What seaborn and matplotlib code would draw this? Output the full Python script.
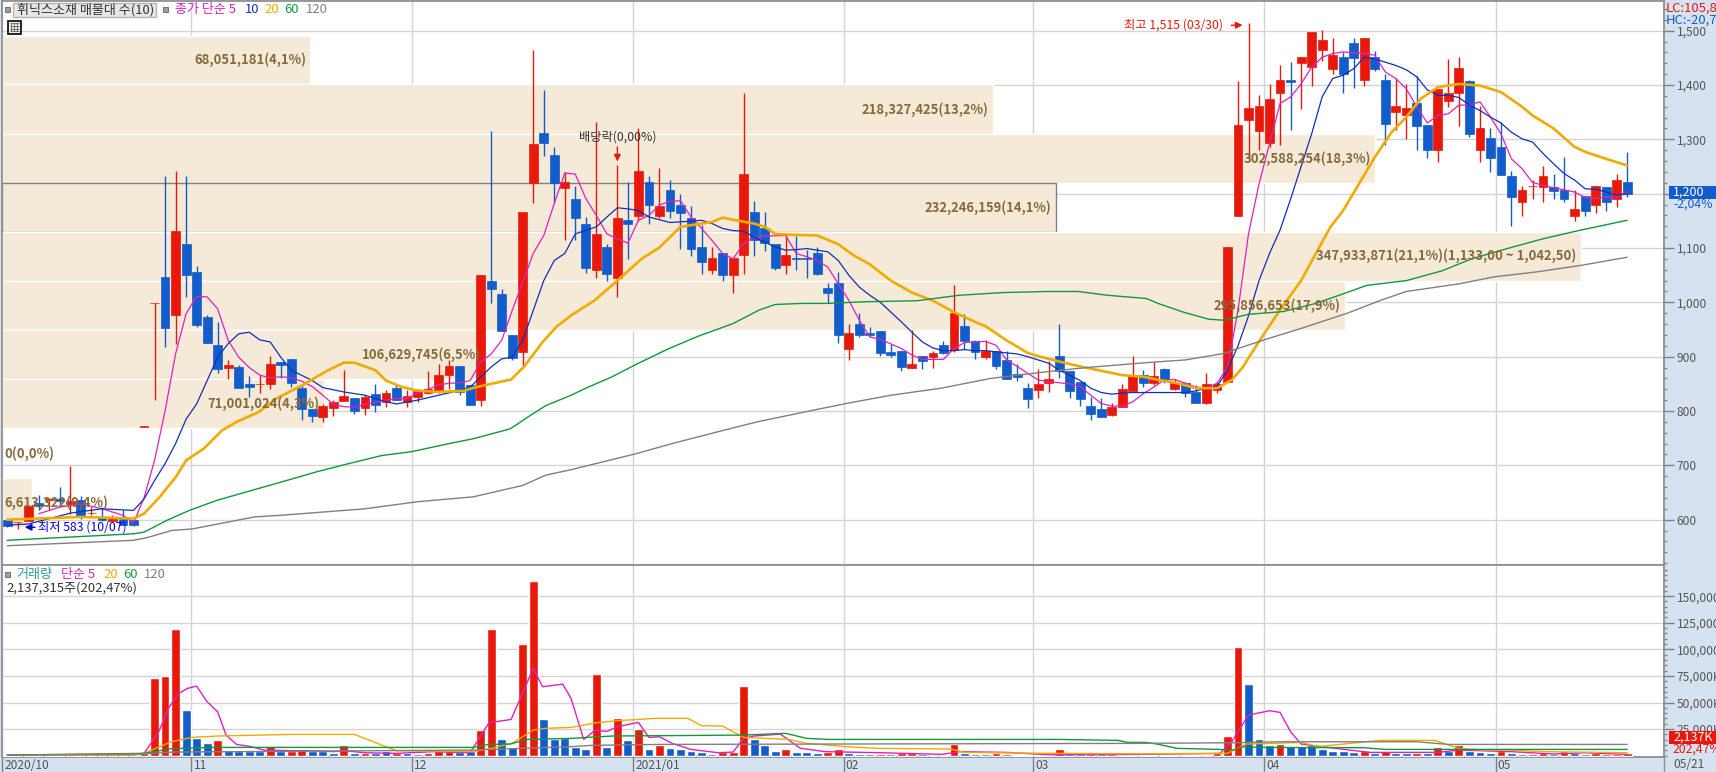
import matplotlib
matplotlib.use('Agg')
import matplotlib.pyplot as plt
from matplotlib.patches import Rectangle
from matplotlib.ticker import FuncFormatter, MultipleLocator
import numpy as np
import pandas as pd
import seaborn as sns

opens = [599, 595, 598, 631, 636, 638, 628, 637, 612, 604, 597, 602, 600, 771, 998, 1046, 976, 1107, 1055, 973,
         921, 879, 881, 849, 849, 850, 891, 895, 842, 804, 789, 805, 818, 823, 806, 831, 816, 842, 817, 825,
         834, 838, 866, 882, 847, 820, 1040, 1016, 939, 909, 1219, 1311, 1271, 1210, 1191, 1145, 1059, 1101, 1044, 1151,
         1158, 1221, 1158, 1206, 1180, 1156, 1101, 1059, 1090, 1050, 1088, 1166, 1136, 1107, 1068, 1081, 1081, 1090, 1026, 1035,
         915, 960, 944, 947, 909, 910, 879, 901, 899, 921, 912, 956, 929, 899, 910, 894, 868, 842, 839, 852,
         901, 874, 853, 809, 804, 793, 807, 837, 866, 852, 877, 840, 852, 835, 815, 839, 853, 1158, 1335, 1315,
         1294, 1385, 1410, 1440, 1434, 1464, 1429, 1451, 1477, 1409, 1451, 1410, 1350, 1344, 1366, 1326, 1280, 1370, 1385, 1407,
         1280, 1302, 1285, 1232, 1184, 1214, 1213, 1212, 1206, 1158, 1195, 1179, 1212, 1190, 1221]
closes = [588, 596, 626, 626, 638, 634, 635, 604, 613, 600, 604, 591, 591, 772, 999, 953, 1131, 1050, 958, 925,
          878, 884, 843, 844, 850, 886, 885, 851, 804, 791, 809, 816, 827, 800, 825, 811, 834, 821, 828, 836,
          840, 867, 882, 835, 811, 1051, 1024, 948, 898, 1166, 1291, 1294, 1219, 1221, 1155, 1064, 1125, 1053, 1156, 1144,
          1241, 1179, 1177, 1169, 1164, 1099, 1074, 1081, 1050, 1081, 1236, 1114, 1109, 1064, 1087, 1080, 1080, 1053, 1018, 939,
          943, 940, 940, 907, 903, 881, 886, 892, 907, 907, 980, 929, 909, 910, 883, 859, 863, 822, 850, 859,
          874, 837, 822, 794, 789, 807, 840, 864, 852, 864, 859, 852, 834, 815, 850, 850, 1101, 1326, 1357, 1361,
          1375, 1410, 1405, 1451, 1497, 1482, 1456, 1420, 1449, 1486, 1429, 1329, 1361, 1357, 1324, 1280, 1392, 1386, 1431, 1309,
          1320, 1265, 1234, 1193, 1206, 1215, 1232, 1204, 1190, 1171, 1169, 1215, 1184, 1226, 1199]
highs = [600, 596, 627, 645, 640, 661, 699, 643, 623, 623, 608, 617, 600, 772, 999, 1232, 1241, 1232, 1066, 976,
         963, 894, 885, 864, 866, 902, 891, 895, 847, 804, 813, 820, 875, 823, 830, 849, 838, 847, 838, 841,
         873, 886, 893, 882, 847, 1051, 1316, 1025, 939, 1166, 1465, 1391, 1285, 1240, 1215, 1157, 1331, 1107, 1252, 1221,
         1320, 1232, 1247, 1226, 1200, 1177, 1142, 1101, 1090, 1081, 1386, 1186, 1166, 1107, 1125, 1122, 1096, 1101, 1035, 1055,
         960, 980, 955, 947, 923, 910, 949, 901, 910, 929, 1032, 979, 931, 931, 910, 910, 887, 852, 877, 892,
         960, 874, 853, 826, 824, 814, 850, 901, 875, 891, 880, 858, 854, 847, 870, 854, 1101, 1407, 1515, 1381,
         1401, 1436, 1442, 1451, 1497, 1501, 1486, 1461, 1486, 1486, 1462, 1421, 1412, 1401, 1416, 1326, 1392, 1447, 1451, 1410,
         1361, 1320, 1331, 1241, 1215, 1225, 1250, 1236, 1267, 1206, 1195, 1215, 1212, 1236, 1276]
lows = [586, 583, 597, 618, 617, 629, 611, 602, 608, 598, 596, 590, 588, 771, 821, 918, 924, 1010, 955, 925,
        870, 858, 842, 826, 833, 840, 861, 845, 783, 780, 779, 791, 818, 795, 792, 798, 807, 821, 807, 817,
        832, 833, 841, 829, 811, 810, 998, 948, 894, 883, 1182, 1269, 1182, 1115, 1114, 1054, 1044, 1039, 1010, 1079,
        1149, 1144, 1155, 1155, 1099, 1085, 1053, 1053, 1039, 1018, 1053, 1085, 1094, 1059, 1053, 1059, 1044, 1050, 998, 926,
        894, 937, 938, 901, 899, 874, 879, 877, 879, 905, 909, 914, 896, 896, 877, 859, 855, 806, 824, 835,
        861, 824, 809, 783, 789, 791, 807, 835, 845, 848, 851, 839, 825, 815, 812, 833, 853, 1158, 1265, 1280,
        1286, 1289, 1318, 1355, 1399, 1445, 1420, 1385, 1394, 1399, 1425, 1289, 1317, 1300, 1280, 1265, 1259, 1359, 1324, 1304,
        1259, 1239, 1234, 1140, 1158, 1190, 1184, 1190, 1184, 1149, 1158, 1164, 1169, 1175, 1193]
volumes = [300, 300, 300, 600, 300, 900, 2500, 900, 600, 600, 600, 300, 300, 2500, 72900, 74800, 118900, 42900, 16600, 11900,
           14700, 5300, 4100, 4100, 4100, 9100, 4100, 4100, 6300, 4100, 4100, 2800, 10000, 2500, 2500, 2500, 4100, 2200, 2200, 1900,
           2800, 4700, 4700, 3400, 4700, 24100, 118900, 15700, 8100, 104900, 164000, 34400, 15700, 16300, 8100, 6300, 76700, 8100, 35400, 14700,
           25000, 6300, 10000, 7200, 6300, 4400, 3400, 1600, 3100, 3400, 65400, 15700, 10000, 4400, 6300, 3400, 3400, 2500, 3100, 6300,
           2800, 1600, 1600, 1900, 1900, 2200, 2200, 1600, 900, 900, 11000, 2500, 1600, 1600, 2200, 1200, 900, 900, 900, 900,
           6300, 1900, 1900, 1900, 1900, 1200, 900, 900, 900, 900, 600, 600, 600, 600, 600, 2200, 18500, 102000, 67300, 15700,
           10000, 11000, 9100, 9100, 10000, 6300, 4400, 4400, 3400, 4100, 2800, 4400, 2800, 2800, 2800, 2800, 8100, 4400, 10000, 4400,
           3400, 2500, 4400, 2800, 1900, 1900, 2800, 1200, 4400, 2200, 1900, 2500, 1200, 1200, 2137]
vol_dirs = list('BBBBBRRBBBRBBR'
                'RRRBBBRBBBBRBRRBBBRBRBBRBBRRRBBRRBBRRBBB'
                'BBRBRBRBRBBBBBRRRBBBRBBBRRBBBRBRRBRBRBBBRRBRRBRBBRBRRR'
                'RRBRRRRRRRBBBRBBBBBBBRBRBBRBRBRBBBRBBRRBRBBRRRR')

ma5_x = [3, 5, 7, 9, 11, 12, 13, 14, 15, 16, 17, 18, 19, 20, 21, 22, 23, 24, 25, 26, 27, 28, 29, 30, 31, 32, 33, 34, 35, 36, 37, 38, 39, 40, 41, 42, 43, 44, 45, 46, 47, 48, 49, 50, 51, 52, 53, 54, 55, 56, 57, 58, 59, 60, 61, 62, 63, 64, 65, 66, 67, 68, 69, 70, 71, 72, 74, 75, 76, 77, 78, 79, 80, 81, 82, 83, 85, 86, 87, 89, 90, 91, 93, 94, 95, 96, 98, 99, 101, 102, 103, 104, 105, 106, 107, 108, 109, 110, 111, 112, 113, 114, 115, 116, 117, 118, 119, 120, 121, 122, 123, 124, 125, 126, 127, 128, 129, 130, 131, 132, 133, 134, 135, 136, 137, 138, 139, 140, 141, 142, 143, 144, 145, 146, 147, 148, 149, 150, 151, 152, 153, 154]
ma5_y = [611, 623, 629, 620, 608, 594, 640, 709, 800, 905, 979, 1011, 1010, 988, 930, 899, 880, 866, 861, 863, 861, 855, 845, 829, 812, 808, 807, 812, 816, 820, 823, 823, 833, 840, 848, 851, 852, 856, 890, 905, 930, 985, 1037, 1090, 1123, 1182, 1238, 1236, 1191, 1160, 1126, 1117, 1109, 1151, 1160, 1179, 1186, 1187, 1157, 1136, 1114, 1090, 1080, 1108, 1120, 1122, 1123, 1090, 1084, 1077, 1065, 1034, 1004, 967, 936, 932, 915, 903, 895, 895, 915, 926, 928, 921, 894, 882, 857, 854, 850, 845, 829, 814, 809, 809, 817, 832, 844, 857, 858, 851, 844, 842, 851, 880, 985, 1126, 1218, 1292, 1366, 1378, 1402, 1433, 1451, 1458, 1461, 1459, 1458, 1455, 1424, 1412, 1393, 1360, 1330, 1344, 1347, 1363, 1363, 1369, 1341, 1310, 1264, 1246, 1221, 1215, 1211, 1207, 1203, 1193, 1191, 1194, 1194, 1203]
ma10_x = [0, 2, 4, 6, 9, 12, 13, 14, 15, 16, 17, 18, 19, 20, 21, 22, 23, 24, 25, 26, 27, 29, 30, 32, 34, 36, 37, 39, 41, 43, 44, 46, 47, 48, 49, 50, 51, 52, 53, 54, 56, 57, 58, 59, 60, 61, 62, 63, 64, 66, 67, 68, 69, 70, 71, 72, 73, 74, 75, 76, 77, 78, 79, 80, 81, 82, 83, 84, 85, 86, 87, 88, 89, 90, 91, 92, 93, 94, 96, 97, 98, 99, 100, 101, 102, 103, 104, 105, 106, 107, 108, 110, 112, 113, 114, 115, 116, 117, 118, 119, 120, 121, 122, 123, 124, 125, 126, 127, 128, 129, 130, 131, 132, 133, 134, 135, 136, 137, 138, 139, 140, 141, 142, 143, 144, 145, 146, 147, 148, 149, 150, 151, 152, 153, 154]
ma10_y = [590, 592, 602, 612, 620, 617, 638, 672, 703, 740, 785, 813, 856, 899, 924, 942, 945, 931, 927, 899, 875, 856, 843, 835, 829, 817, 813, 820, 829, 838, 844, 881, 896, 899, 930, 985, 1040, 1077, 1090, 1126, 1139, 1157, 1174, 1172, 1169, 1157, 1152, 1147, 1148, 1151, 1145, 1136, 1132, 1131, 1120, 1111, 1102, 1096, 1097, 1099, 1096, 1093, 1077, 1050, 1028, 1013, 1000, 982, 964, 945, 927, 916, 911, 911, 913, 911, 911, 909, 905, 900, 894, 888, 875, 866, 856, 842, 834, 831, 833, 834, 834, 834, 834, 837, 842, 845, 875, 920, 975, 1040, 1090, 1133, 1190, 1250, 1310, 1378, 1412, 1418, 1430, 1451, 1448, 1442, 1436, 1428, 1415, 1391, 1381, 1381, 1377, 1363, 1353, 1341, 1330, 1313, 1301, 1295, 1274, 1255, 1237, 1225, 1209, 1208, 1203, 1197, 1200]
ma20_x = [0, 7, 12, 13, 14.5, 16, 17, 18.7, 20.4, 21.8, 23.9, 25.6, 28, 30.4, 32, 33, 35, 36, 37.4, 38.8, 40.8, 43.3, 44.6, 46, 47.9, 49.1, 50.9, 52.2, 53.6, 55.8, 58, 60.3, 62, 64, 66, 67, 68, 69, 71, 72, 73, 75, 77, 79, 80.5, 82, 84, 86, 88, 90, 92, 93, 95, 97, 98, 100, 102, 104, 106, 108, 109.5, 111.5, 113, 115, 116.4, 117.4, 119, 121, 123, 124.4, 125.8, 127, 128.5, 130, 131.6, 133, 134.4, 136, 138, 140, 142, 144, 145, 147, 149, 150, 152, 154]
ma20_y = [600, 605, 602, 611, 642, 678, 709, 731, 764, 780, 798, 823, 847, 874, 889, 889, 875, 856, 845, 838, 835, 837, 844, 850, 858, 881, 927, 955, 976, 1003, 1040, 1080, 1101, 1139, 1145, 1148, 1156, 1152, 1145, 1139, 1126, 1124, 1123, 1107, 1086, 1070, 1040, 1018, 1003, 982, 964, 956, 930, 907, 901, 891, 882, 874, 866, 863, 857, 850, 842, 842, 857, 879, 928, 986, 1040, 1090, 1139, 1169, 1218, 1267, 1313, 1341, 1375, 1396, 1402, 1399, 1387, 1360, 1344, 1320, 1286, 1277, 1264, 1252]
ma60_x = [0, 12, 13, 15.2, 17.3, 20, 26, 29.4, 32, 35.6, 38.4, 42, 44.3, 47.8, 49.5, 51.2, 53.6, 55, 57.5, 59.7, 62.8, 65.6, 69, 71.5, 73, 75.5, 78, 81.5, 86.5, 90.5, 94.7, 99, 101.8, 104.6, 108.3, 109.4, 111.8, 114.2, 115.7, 118, 121.3, 124.4, 127.2, 129.2, 133, 136.4, 139.2, 142.6, 146, 149.6, 154]
ma60_y = [562, 574, 577, 599, 617, 636, 669, 688, 701, 718, 725, 740, 749, 767, 789, 810, 829, 842, 863, 885, 914, 937, 961, 986, 996, 998, 998, 1001, 1003, 1013, 1018, 1020, 1020, 1013, 1007, 998, 982, 969, 967, 978, 983, 998, 1017, 1031, 1040, 1058, 1080, 1099, 1117, 1133, 1151]
ma120_x = [0, 12, 13.3, 15.6, 17.6, 23.5, 26, 34, 39, 44.3, 49, 51.2, 53.6, 59.7, 63.2, 68, 71.3, 76, 79.8, 84, 88.8, 93.5, 98.7, 102.6, 108.3, 112, 115.7, 117, 119.5, 123, 127.4, 130.6, 133, 138, 141.4, 145.4, 149.6, 154]
ma120_y = [552, 562, 567, 580, 583, 605, 608, 620, 633, 642, 663, 682, 692, 721, 740, 764, 780, 799, 814, 829, 842, 860, 872, 880, 889, 894, 906, 915, 931, 952, 980, 1004, 1020, 1034, 1047, 1056, 1068, 1083]

vma5_x = [0, 12, 13, 14.4, 15.4, 16.3, 17.1, 18, 19, 20, 20.8, 21.8, 23.2, 24.4, 27, 29, 31, 32, 34, 37, 40.5, 44, 45.8, 47.9, 50, 50.9, 52.8, 53.6, 54.8, 55.9, 57, 58, 60, 61, 62, 63.2, 65, 67.6, 69, 70, 71, 73.5, 75.4, 77.8, 83, 88.9, 90.5, 95, 99, 108, 115.3, 116.4, 118, 120, 121, 122, 123, 125, 127.6, 129.6, 136, 138, 143, 147, 150, 154]
vma5_y = [600, 600, 2200, 22500, 46000, 58500, 63200, 65400, 50700, 41300, 19400, 10600, 8500, 5300, 4700, 4700, 3800, 4700, 2800, 2200, 3800, 2800, 31000, 34100, 82000, 64800, 67300, 53800, 15300, 24100, 22800, 27200, 31300, 17200, 17800, 11600, 5900, 2800, 3400, 16300, 18500, 20300, 6900, 3800, 2800, 1250, 3800, 3100, 900, 1250, 2200, 13100, 38200, 42300, 40700, 22500, 11000, 8500, 5300, 3100, 3100, 5300, 3800, 1600, 2800, 1250]
vma20_x = [0, 12, 13.1, 15.6, 17.5, 20, 27, 33, 35.6, 37, 44.3, 46, 48, 50, 51.2, 53.6, 56, 58, 60, 61.6, 64.7, 66, 68, 70, 74.3, 76, 78, 79.7, 82.7, 89.7, 91, 99.3, 108, 116, 117.8, 120.4, 123, 124.6, 130.5, 135.7, 138, 140, 143, 146, 154]
vma20_y = [600, 600, 2800, 13100, 17200, 18500, 20000, 20000, 10000, 4700, 3800, 6900, 11600, 24100, 25700, 26600, 31000, 32900, 34100, 35100, 35100, 28200, 27900, 17200, 15300, 11600, 10000, 8500, 6900, 6300, 3100, 2200, 1800, 2200, 11000, 11600, 12500, 8500, 14400, 14400, 6900, 5300, 5300, 3800, 2800]
vma60_x = [0, 13, 15.6, 19.4, 44.3, 45.7, 47.8, 49.5, 53.6, 57.5, 70, 74, 76, 78, 97, 100, 105.6, 106.5, 108.2, 109.3, 111.2, 115.3, 116.5, 117.6, 119, 129, 131, 154]
vma60_y = [600, 2200, 6600, 7800, 7800, 10600, 11000, 15300, 16300, 18500, 19400, 21000, 16300, 15300, 15300, 15300, 14400, 12500, 12500, 11000, 6900, 5900, 5300, 8500, 7800, 7500, 5900, 5900]
vma120_x = [0, 13, 15.6, 44.3, 53.6, 55.5, 62, 108, 116.5, 121, 134, 137, 154]
vma120_y = [600, 1600, 3400, 5300, 8500, 9700, 10600, 11600, 12200, 13100, 13100, 10600, 10600]

# top to bottom, price edges of the volume profile
band_edges = [1491, 1401, 1310, 1220, 1130, 1040, 949, 858, 768, 676, 586]
band_vols = [68051181, 218327425, 302588254, 232246159, 347933871, 295856653, 106629745, 71001024, 0, 6613322]
band_labels = ['68,051,181(4,1%)', '218,327,425(13,2%)', '302,588,254(18,3%)', '232,246,159(14,1%)',
               '347,933,871(21,1%)(1,133,00 ~ 1,042,50)', '295,856,653(17,9%)', '106,629,745(6,5%)',
               '71,001,024(4,3%)', '0(0,0%)', '6,613,322(0,4%)']
month_pos = [-0.5, 17.5, 38.5, 59.5, 79.5, 97.5, 119.5, 141.5]
month_labels = ['2020/10', '11', '12', '2021/01', '02', '03', '04', '05']

RED = '#e8190b'
BLUE = '#125dcb'
MAGENTA = '#e020c0'
NAVY = '#1030b8'
ORANGE = '#f2aa00'
GREEN = '#10993c'
GREY = '#808080'
BROWN = '#866a38'
STRIP = '#d6e2f0'
W, H = 1716, 772

sns.set_style('white')
plt.rcParams['font.family'] = ['Noto Sans CJK KR', 'DejaVu Sans']

fig = plt.figure(figsize=(W / 100, H / 100), dpi=100, facecolor=STRIP)
ax = fig.add_axes([1.5 / W, 1 - 565.3 / H, (1664 - 1.5) / W, (565.3 - 1) / H])
ax_vol = fig.add_axes([1.5 / W, 1 - 756.7 / H, (1664 - 1.5) / W, (756.7 - 565.3) / H])

XLIM = (-0.55, 157.5)
ax.set_xlim(*XLIM)
ax.set_ylim(516, 1554.6)

# grid first, everything else sits on it
ax.set_axisbelow(True)
ax.grid(True, which='major', color='#d4d4d4', lw=1)
ax.set_xticks(month_pos)
ax.yaxis.set_major_locator(MultipleLocator(100))
ax.yaxis.set_minor_locator(MultipleLocator(20))
ax.yaxis.set_major_formatter(FuncFormatter(lambda v, p: f'{int(v):,}'))
ax.yaxis.tick_right()
ax.tick_params(axis='y', which='major', length=7, width=1, color=GREY, labelsize=8.6, labelcolor='#555555', pad=2, right=True)
ax.tick_params(axis='y', which='minor', length=2.5, width=1, color=GREY, right=True)
ax.tick_params(axis='x', length=0, labelbottom=False)

# volume profile bands, width follows traded volume
px_per_vol = 4.54 / 10.52 / 1e6
for k, vol in enumerate(band_vols):
    top, bot = band_edges[k], band_edges[k + 1]
    edge = GREY if k == 3 else 'white'
    width = vol * px_per_vol
    if vol > 0:
        ax.barh((top + bot) / 2, width, height=top - bot, left=XLIM[0], color='#f5e9d8',
                edgecolor=edge, lw=1, zorder=1)
    if width > 6:
        ax.text(XLIM[0] + width - 0.4, (top + bot) / 2, band_labels[k], ha='right', va='center',
                fontsize=9.4, fontweight='bold', color=BROWN, zorder=8)
    else:
        ax.text(XLIM[0] + 0.3, (top + bot) / 2, band_labels[k], ha='left', va='center',
                fontsize=9.4, fontweight='bold', color=BROWN, zorder=8)

idx = np.arange(len(opens))
o, c, hi, lo = map(np.array, (opens, closes, highs, lows))
up = c >= o
colors = np.where(up, RED, BLUE)
ax.vlines(idx, lo, hi, colors=colors, lw=1.0, zorder=3)
ax.bar(idx, np.abs(c - o), bottom=np.minimum(o, c), width=0.84, color=colors, edgecolor=colors, lw=0.5, zorder=4)

for xs, ys, col, w in [(ma5_x, ma5_y, MAGENTA, 0.9), (ma10_x, ma10_y, NAVY, 0.9), (ma20_x, ma20_y, ORANGE, 1.9),
                       (ma60_x, ma60_y, GREEN, 1.0), (ma120_x, ma120_y, GREY, 1.0)]:
    sns.lineplot(x=xs, y=ys, color=col, lw=w, estimator=None, sort=False, ax=ax, zorder=5)
ax.set_xlabel('')
ax.set_ylabel('')
ax.set_xlim(*XLIM)
ax.set_ylim(516, 1554.6)

# volume pane
df = pd.DataFrame({'i': idx, 'vol': volumes, 'dir': vol_dirs})
sns.barplot(data=df, x='i', y='vol', hue='dir', palette={'R': RED, 'B': BLUE}, native_scale=True, dodge=False,
            width=0.84, saturation=1, legend=False, ax=ax_vol, zorder=3)
for xs, ys, col in [(vma5_x, vma5_y, MAGENTA), (vma20_x, vma20_y, ORANGE), (vma60_x, vma60_y, GREEN), (vma120_x, vma120_y, GREY)]:
    sns.lineplot(x=xs, y=ys, color=col, lw=1.0, estimator=None, sort=False, ax=ax_vol, zorder=5)
ax_vol.set_xlabel('')
ax_vol.set_ylabel('')
ax_vol.set_xlim(*XLIM)
ax_vol.set_ylim(-940, 179000)
ax_vol.set_axisbelow(True)
ax_vol.grid(True, which='major', color='#d4d4d4', lw=1)
ax_vol.set_xticks(month_pos)
ax_vol.set_xticklabels([])
ax_vol.set_yticks([25000, 50000, 75000, 100000, 125000, 150000])
ax_vol.yaxis.set_minor_locator(MultipleLocator(5000))
ax_vol.yaxis.set_major_formatter(FuncFormatter(lambda v, p: f'{int(v):,}K'))
ax_vol.yaxis.tick_right()
ax_vol.tick_params(axis='y', which='major', length=7, width=1, color=GREY, labelsize=8.6, labelcolor='#555555', pad=2, right=True)
ax_vol.tick_params(axis='y', which='minor', length=2.5, width=1, color=GREY, right=True)
ax_vol.tick_params(axis='x', length=15, width=1, color=GREY, bottom=True)

for a in (ax, ax_vol):
    for s in a.spines.values():
        s.set_color('#909090')
        s.set_linewidth(1.3)

# month names under the pane
for pos, lab in zip(month_pos, month_labels):
    ax_vol.text(pos + 0.2, -0.048, lab, transform=ax_vol.get_xaxis_transform(), ha='left', va='center', fontsize=8.6, color='#555555')

# marks on the price pane
ax.annotate('', xy=(117.7, 1510), xytext=(116.1, 1510), arrowprops=dict(arrowstyle='-|>', color=RED, lw=1), zorder=9)
ax.text(115.6, 1510, '최고 1,515 (03/30)', color=RED, ha='right', va='center', fontsize=8.8, zorder=9)
ax.annotate('', xy=(1.4, 586), xytext=(2.9, 586), arrowprops=dict(arrowstyle='-|>', color='#0000e0', lw=1), zorder=9)
ax.text(2.9, 586, '최저 583 (10/07)', color='#0000e0', ha='left', va='center', fontsize=8.8, zorder=9)
ax.text(58, 1305, '배당락(0,00%)', color='#333333', ha='center', va='center', fontsize=8.8, zorder=9)
ax.annotate('', xy=(58, 1254), xytext=(58, 1291), arrowprops=dict(arrowstyle='-|>', color=RED, lw=1), zorder=9)

# figure level bits, positions in pixels
def ftext(x, y, s, **kw):
    kw.setdefault('va', 'center')
    kw.setdefault('ha', 'left')
    kw.setdefault('fontsize', 9.4)
    fig.text(x / W, 1 - y / H, s, **kw)

def frect(x0, y0, x1, y1, **kw):
    fig.add_artist(Rectangle((x0 / W, 1 - y1 / H), (x1 - x0) / W, (y1 - y0) / H, transform=fig.transFigure, **kw))

frect(5, 7, 10, 12, fc='#a0a0a0', ec='#707070', lw=0.7)
frect(13, 2.5, 156, 16.5, fc='#e6e6e6', ec='#b5b5b5', lw=1)
ftext(17, 9.5, '휘닉스소재 매물대 수(10)', color='#333333')
frect(163, 7, 168, 12, fc='#a0a0a0', ec='#707070', lw=0.7)
ftext(175, 9.5, '종가 단순 5', color=MAGENTA)
ftext(245, 9.5, '10', color=NAVY)
ftext(264.5, 9.5, '20', color=ORANGE)
ftext(284.5, 9.5, '60', color=GREEN)
ftext(305.5, 9.5, '120', color=GREY)

# table icon
frect(7.5, 20.5, 20.5, 33.5, fc='#f0f0f0', ec='black', lw=1.2)
for xx in (11, 14, 17):
    frect(xx, 23, xx, 31, fc='none', ec='#707070', lw=0.7)
for yy in (23, 26, 28.5, 31):
    frect(10, yy, 18.5, yy, fc='none', ec='#707070', lw=0.7)

frect(5, 571.5, 10, 576.5, fc='#a0a0a0', ec='#707070', lw=0.7)
ftext(16.5, 574.5, '거래량', color='#2a9d9d')
ftext(61, 574.5, '단순 5', color=MAGENTA)
ftext(103, 574.5, '20', color=ORANGE)
ftext(123, 574.5, '60', color=GREEN)
ftext(143.5, 574.5, '120', color=GREY)
ftext(6.5, 588, '2,137,315주(202,47%)', color='#333333')

ftext(1666, 8, 'LC:105,83', color=RED)
ftext(1666, 20, 'HC:-20,75', color=BLUE)
frect(1669, 186, 1716, 199, fc=BLUE, ec='none')
ftext(1673, 192.5, '1,200', color='white', fontsize=9)
ftext(1673, 204.5, '-2,04%', color=BLUE, fontsize=8.8)
frect(1669, 731, 1716, 744, fc=RED, ec='none')
ftext(1673, 737.5, '2,137K', color='white', fontsize=9)
ftext(1673, 749.5, '202,47%', color=RED, fontsize=8.8)
frect(1664, 757, 1664, 772, fc='none', ec='#909090', lw=1)
ftext(1673, 765, '05/21', color='#555555', fontsize=8.6)

fig.savefig('out.png', dpi=100, facecolor=fig.get_facecolor())
